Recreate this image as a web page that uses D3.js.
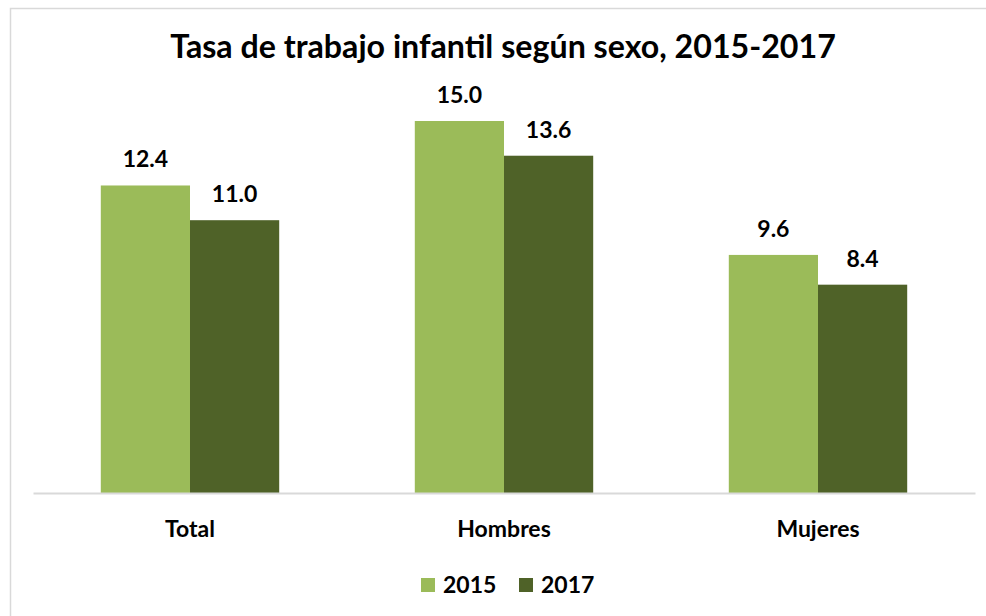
<!DOCTYPE html>
<html><head><meta charset="utf-8">
<script src="https://cdn.jsdelivr.net/npm/d3@7"></script>
<style>body{margin:0;background:#fff;} svg{display:block;}</style>
</head><body>
<script>
const categories = ["Total", "Hombres", "Mujeres"];
const seriesNames = ["2015", "2017"];
const values2015 = [12.4, 15.0, 9.6];
const values2017 = [11.0, 13.6, 8.4];
const colors = ["#9BBB59", "#4F6228"];
const title = "Tasa de trabajo infantil según sexo, 2015-2017";

const W = 986, H = 616;
const font = "Lato, 'Open Sans', sans-serif";
const svg = d3.select("body").append("svg").attr("width", W).attr("height", H);

// chart border
svg.append("rect").attr("x", 10.5).attr("y", 8.5).attr("width", 1000).attr("height", 700)
  .attr("fill", "#fff").attr("stroke", "#d9d9d9").attr("stroke-width", 1.5);

const x0 = d3.scaleBand().domain(categories).range([33, 975]).paddingInner(0).paddingOuter(0);
const x1 = d3.scaleBand().domain(seriesNames).range([0, x0.bandwidth()]).paddingInner(0).paddingOuter(0.76);
const y = d3.scaleLinear().domain([0, 16]).range([493, 96.2]);

const data = categories.map((c, i) => ({cat: c, vals: [values2015[i], values2017[i]]}));

const g = svg.append("g");
const groups = g.selectAll("g.cat").data(data).join("g")
  .attr("transform", d => `translate(${x0(d.cat)},0)`);

groups.selectAll("rect").data(d => d.vals.map((v, j) => ({v, s: seriesNames[j], j})))
  .join("rect")
  .attr("x", d => x1(d.s)).attr("width", x1.bandwidth())
  .attr("y", d => y(d.v)).attr("height", d => y(0) - y(d.v))
  .attr("fill", d => colors[d.j]);

groups.selectAll("text").data(d => d.vals.map((v, j) => ({v, s: seriesNames[j], j})))
  .join("text")
  .attr("x", d => x1(d.s) + x1.bandwidth() / 2)
  .attr("y", d => y(d.v) - 18)
  .attr("text-anchor", "middle")
  .attr("font-family", font).attr("font-weight", "bold").attr("font-size", 23)
  .attr("fill", "#000")
  .text(d => d.v.toFixed(1));

// axis
const axis = svg.append("g").attr("transform", "translate(0,493)")
  .call(d3.axisBottom(x0).tickSize(0).tickPadding(0));
axis.select(".domain").attr("stroke", "#d9d9d9").attr("stroke-width", 2);
axis.selectAll(".tick text").attr("dy", 0).attr("y", 44)
  .attr("font-family", font).attr("font-weight", "bold").attr("font-size", 23).attr("fill", "#000");

// title
const t = svg.append("text").attr("x", 503).attr("y", 58).attr("text-anchor", "middle")
  .attr("font-family", font).attr("font-weight", "bold").attr("font-size", 28)
  .attr("fill", "#000").text(title);
const tw = t.node().getComputedTextLength();
t.attr("font-size", 28 * 666 / tw);

// legend
const legendX = [421, 519];
const leg = svg.append("g");
seriesNames.forEach((s, i) => {
  leg.append("rect").attr("x", legendX[i]).attr("y", 578).attr("width", 14).attr("height", 14).attr("fill", colors[i]);
  leg.append("text").attr("x", legendX[i] + 22).attr("y", 593)
    .attr("font-family", font).attr("font-weight", "bold").attr("font-size", 23).attr("fill", "#000").text(s);
});
</script>
</body></html>
